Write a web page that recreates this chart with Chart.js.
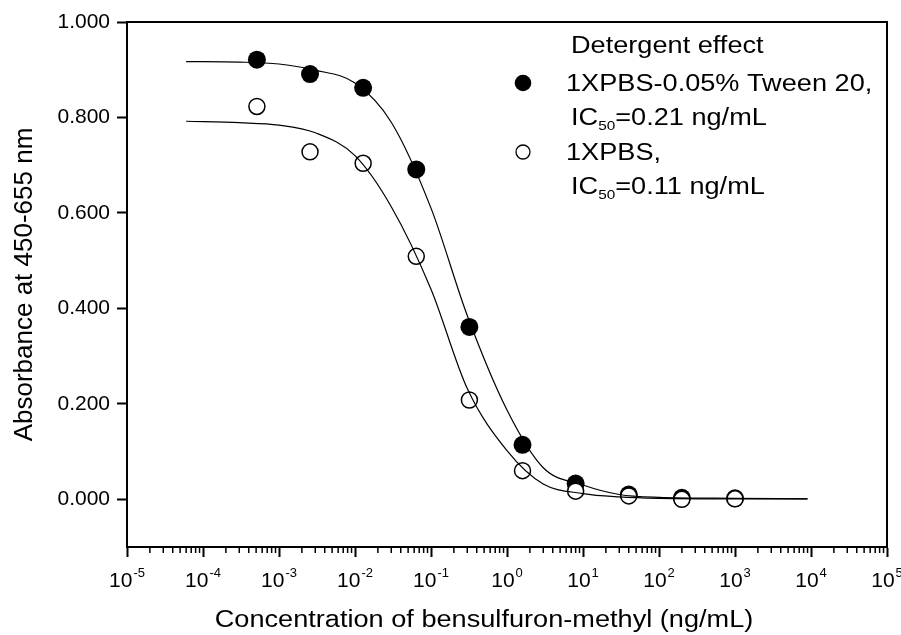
<!DOCTYPE html>
<html>
<head>
<meta charset="utf-8">
<script src="https://cdn.jsdelivr.net/npm/chart.js@4.4.1/dist/chart.umd.min.js"></script>
<style>
  html, body { margin: 0; padding: 0; background: #fff; }
  #wrap { width: 901px; height: 635px; }
</style>
</head>
<body>
<div id="wrap"><canvas id="chart" width="901" height="635"></canvas></div>
<script>
// Concentrations of the dilution series (ng/mL)
const concentrations = [0.000512, 0.00256, 0.0128, 0.064, 0.32, 1.6, 8, 40, 200, 1000];
// Measured absorbance
const tweenAbs = [0.921, 0.891, 0.862, 0.691, 0.361, 0.114, 0.033, 0.010, 0.003, 0.002];
const pbsAbs = [0.823, 0.728, 0.704, 0.509, 0.208, 0.060, 0.017, 0.007, 0.000, 0.001];

// Fitted curves
const fitConc = [6e-5, 3e-4, 1e-3, 3e-3, 1e-2, 3e-2, 0.1, 0.3, 1, 3, 10, 30, 100, 1000, 9000];
const tweenFit = [0.917, 0.916, 0.912, 0.899, 0.872, 0.790, 0.610, 0.385, 0.187, 0.066, 0.030, 0.010, 0.004, 0.002, 0.001];
const pbsFit = [0.792, 0.789, 0.784, 0.768, 0.720, 0.613, 0.440, 0.232, 0.102, 0.032, 0.012, 0.005, 0.002, 0.001, 0.001];

// Axes
const yTicks = [0, 0.2, 0.4, 0.6, 0.8, 1.0];
const xTickExps = [-5, -4, -3, -2, -1, 0, 1, 2, 3, 4, 5];
const minorSteps = [2, 3, 4, 5, 6, 7, 8, 9];

// Legend text
const legendTitle = 'Detergent effect';
const seriesNames = ['1XPBS-0.05% Tween 20,', '1XPBS,'];
const ic50Values = ['0.21', '0.11'];

const xTitle = 'Concentration of bensulfuron-methyl (ng/mL)';
const yTitle = 'Absorbance at 450-655 nm';

const black = '#000';
const FONT = '"Liberation Sans", Arial, Helvetica, sans-serif';
const STRETCH = 1.18;

function pts(xs, ys) {
    return xs.map((x, i) => ({ x: x, y: ys[i] }));
}

// draws text a bit wider than the font, like the original figure
function wideText(ctx, text, x, y, size, align) {
    ctx.save();
    ctx.font = size + 'px ' + FONT;
    ctx.textAlign = align || 'left';
    ctx.textBaseline = 'alphabetic';
    ctx.translate(x, y);
    ctx.scale(STRETCH, 1);
    ctx.fillText(text, 0, 0);
    const w = ctx.measureText(text).width * STRETCH;
    ctx.restore();
    return w;
}

const framePlugin = {
    id: 'frame',
    afterDraw(chart) {
        const ctx = chart.ctx;
        const a = chart.chartArea;
        const x = chart.scales.x;
        ctx.save();
        ctx.fillStyle = black;
        ctx.strokeStyle = black;

        // box round the plot
        ctx.lineWidth = 2;
        ctx.strokeRect(a.left, a.top, a.right - a.left, a.bottom - a.top);

        // minor ticks on the log axis
        ctx.lineWidth = 1.5;
        ctx.beginPath();
        xTickExps.slice(0, -1).forEach(e => {
            minorSteps.forEach(m => {
                const px = x.getPixelForValue(m * Math.pow(10, e));
                ctx.moveTo(px, a.bottom);
                ctx.lineTo(px, a.bottom + 6);
            });
        });
        ctx.stroke();

        // tick labels 10^n
        xTickExps.forEach(e => {
            const px = x.getPixelForValue(Math.pow(10, e));
            ctx.font = '21px ' + FONT;
            const w1 = ctx.measureText('10').width;
            ctx.font = '13px ' + FONT;
            const w2 = ctx.measureText(String(e)).width;
            const left = px - (w1 + w2 + 1) / 2;
            ctx.textAlign = 'left';
            ctx.textBaseline = 'alphabetic';
            ctx.font = '21px ' + FONT;
            ctx.fillText('10', left, a.bottom + 40);
            ctx.font = '13px ' + FONT;
            ctx.fillText(String(e), left + w1 + 1, a.bottom + 30);
        });

        // x axis title
        wideText(ctx, xTitle, 484, 627, 23, 'center');

        // legend
        wideText(ctx, legendTitle, 571, 53, 23);
        const rows = [{ y: 91, filled: true }, { y: 160, filled: false }];
        rows.forEach((r, i) => {
            ctx.beginPath();
            if (r.filled) {
                ctx.arc(523, r.y - 8, 8.3, 0, Math.PI * 2);
                ctx.fill();
            } else {
                ctx.lineWidth = 1.3;
                ctx.arc(523, r.y - 8, 7, 0, Math.PI * 2);
                ctx.stroke();
            }
            wideText(ctx, seriesNames[i], 566, r.y, 23);
            const by = r.y + 34;
            let cx = 571;
            cx += wideText(ctx, 'IC', cx, by, 23);
            const ws = wideText(ctx, '50', cx, by + 5, 13);
            wideText(ctx, '=' + ic50Values[i] + ' ng/mL', cx + ws, by, 23);
        });
        ctx.restore();
    }
};

const gridOpts = {
    display: true,
    drawOnChartArea: false,
    drawTicks: true,
    tickLength: 10,
    tickWidth: 2,
    tickColor: black
};

// curves on top, then open circles (white inside), then filled circles
new Chart(document.getElementById('chart'), {
    type: 'scatter',
    data: {
        datasets: [
            {
                label: seriesNames[0] + ' fit',
                data: pts(fitConc, tweenFit),
                showLine: true,
                borderColor: black,
                borderWidth: 1.2,
                pointRadius: 0,
                cubicInterpolationMode: 'monotone'
            },
            {
                label: seriesNames[1] + ' fit',
                data: pts(fitConc, pbsFit),
                showLine: true,
                borderColor: black,
                borderWidth: 1.2,
                pointRadius: 0,
                cubicInterpolationMode: 'monotone'
            },
            {
                label: seriesNames[1],
                data: pts(concentrations, pbsAbs),
                pointRadius: 8,
                pointBackgroundColor: '#fff',
                pointBorderColor: black,
                pointBorderWidth: 1.5
            },
            {
                label: seriesNames[0],
                data: pts(concentrations, tweenAbs),
                pointRadius: 9,
                pointBackgroundColor: black,
                pointBorderColor: black,
                pointBorderWidth: 0
            }
        ]
    },
    options: {
        responsive: false,
        animation: false,
        layout: { padding: { top: 22, right: 14, left: 0, bottom: 0 } },
        plugins: {
            legend: { display: false },
            tooltip: { enabled: false }
        },
        scales: {
            x: {
                type: 'logarithmic',
                min: 1e-5,
                max: 1e5,
                afterBuildTicks: s => {
                    s.ticks = xTickExps.map(e => ({ value: Math.pow(10, e), major: true }));
                },
                afterFit: s => { s.height = 88; },
                ticks: { display: false },
                grid: gridOpts,
                border: { display: true, color: black, width: 2 }
            },
            y: {
                min: -0.1,
                max: 1.0,
                afterBuildTicks: s => {
                    s.ticks = yTicks.map(v => ({ value: v }));
                },
                afterFit: s => { s.width = 127; },
                ticks: {
                    color: black,
                    font: { family: FONT, size: 21 },
                    padding: 7,
                    callback: v => Number(v).toFixed(3)
                },
                grid: gridOpts,
                border: { display: true, color: black, width: 2 },
                title: {
                    display: true,
                    text: yTitle,
                    color: black,
                    font: { family: FONT, size: 26 },
                    padding: { top: 9, bottom: 0 }
                }
            }
        }
    },
    plugins: [framePlugin]
});
</script>
</body>
</html>
